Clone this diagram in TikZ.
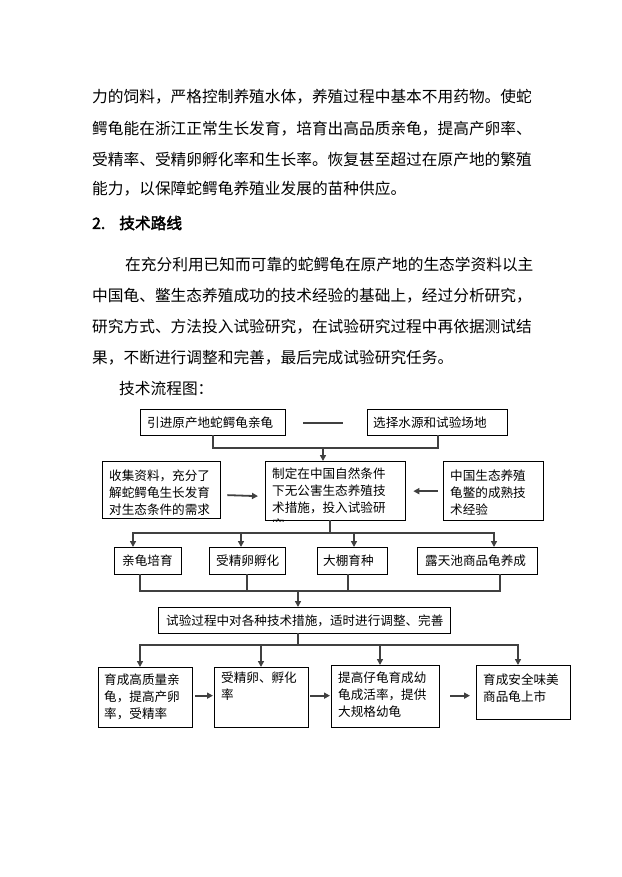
\documentclass[tikz,border=0pt]{standalone}
\usepackage{fontspec}
\usepackage{tikz}
\usetikzlibrary{arrows.meta}
\newfontfamily\cjkfont{Noto Sans CJK SC}
\newfontfamily\cjkbold[FakeBold=2.5]{Noto Sans CJK SC}

\begin{document}
\begin{tikzpicture}[x=1pt,y=-1pt,line cap=rect,
  box/.style={draw=custcol_0_0_0, line width=1.3pt, inner sep=0, anchor=north west},
  wire/.style={line width=1.8pt, custcol_40_40_40},
  arr/.style={wire, -{Triangle[length=6pt,width=6pt]}},
  body/.style={inner sep=0, anchor=west, custcol_0_0_0, font=\cjkfont\fontsize{15.7pt}{15.7pt}\selectfont},
  lbl/.style={inner sep=0, align=left, custcol_0_0_0, font=\cjkfont\fontsize{12.6pt}{17pt}\selectfont}]
					\definecolor{custcol_0_0_0}{RGB}{0, 0, 0}
					\definecolor{custcol_40_40_40}{RGB}{64, 64, 64}
					\useasboundingbox (0,0) rectangle (621,877);
					% running text
					\node[body] (p1) at (92,97)  {力的饲料，严格控制养殖水体，养殖过程中基本不用药物。使蛇};
					\node[body] (p2) at (92,129) {鳄龟能在浙江正常生长发育，培育出高品质亲龟，提高产卵率、};
					\node[body] (p3) at (92,160) {受精率、受精卵孵化率和生长率。恢复甚至超过在原产地的繁殖};
					\node[body] (p4) at (92,189) {能力，以保障蛇鳄龟养殖业发展的苗种供应。};
					\node[body, font=\cjkbold\fontsize{15.7pt}{15.7pt}\selectfont] (h2) at (92,223) {2.\hspace{14pt}技术路线};
					\node[body] (q1) at (125,265) {在充分利用已知而可靠的蛇鳄龟在原产地的生态学资料以主};
					\node[body] (q2) at (92,296)  {中国龟、鳖生态养殖成功的技术经验的基础上，经过分析研究，};
					\node[body] (q3) at (92,327)  {研究方式、方法投入试验研究，在试验研究过程中再依据测试结};
					\node[body] (q4) at (92,358)  {果，不断进行调整和完善，最后完成试验研究任务。};
					\node[body] (q5) at (119,389) {技术流程图：};
					% flow chart boxes
					\node[box, minimum width=145pt, minimum height=26pt] (yinjin) at (140,409) {};
					\node[box, minimum width=140pt, minimum height=26pt] (xuanze) at (367,409) {};
					\node[box, minimum width=118pt, minimum height=57pt] (shouji) at (102,461) {};
					\node[box, minimum width=140pt, minimum height=59pt] (zhiding) at (265,461) {};
					\node[box, minimum width=100pt, minimum height=59pt] (zhongguo) at (443,461) {};
					\node[box, minimum width=67pt, minimum height=27pt] (qingui) at (114,547) {};
					\node[box, minimum width=76pt, minimum height=27pt] (shoujing) at (209,547) {};
					\node[box, minimum width=70pt, minimum height=27pt] (dapeng) at (317,547) {};
					\node[box, minimum width=120pt, minimum height=27pt] (lutian) at (417,547) {};
					\node[box, minimum width=292pt, minimum height=26pt] (tiaozheng) at (158,607) {};
					\node[box, minimum width=94pt, minimum height=60pt] (yucheng) at (98,667) {};
					\node[box, minimum width=94pt, minimum height=60pt] (fuhua) at (214,667) {};
					\node[box, minimum width=108pt, minimum height=62pt] (zaigui) at (331,665) {};
					\node[box, minimum width=94pt, minimum height=54pt] (shangshi) at (476,665) {};
					% box texts
					\node[lbl, anchor=west] (t1) at ([xshift=7pt]yinjin.west) {引进原产地蛇鳄龟亲龟};
					\node[lbl, anchor=west] (t2) at ([xshift=6pt]xuanze.west) {选择水源和试验场地};
					\node[lbl, anchor=north west] (t3) at ([shift={(7,9)}]shouji.north west) {收集资料，充分了\\解蛇鳄龟生长发育\\对生态条件的需求};
					\begin{scope}
					\clip (zhiding.north west) rectangle (zhiding.south east);
					\node[lbl, anchor=north west] (t4) at ([shift={(7,7)}]zhiding.north west) {制定在中国自然条件\\下无公害生态养殖技\\术措施，投入试验研\\究};
					\end{scope}
					\node[lbl, anchor=north west] (t5) at ([shift={(7,9)}]zhongguo.north west) {中国生态养殖\\龟鳖的成熟技\\术经验};
					\node[lbl, anchor=west] (t6) at ([xshift=8pt]qingui.west) {亲龟培育};
					\node[lbl, anchor=west] (t7) at ([xshift=7pt]shoujing.west) {受精卵孵化};
					\node[lbl, anchor=west] (t8) at ([xshift=6pt]dapeng.west) {大棚育种};
					\node[lbl, anchor=west] (t9) at ([xshift=8pt]lutian.west) {露天池商品龟养成};
					\node[lbl, anchor=west] (t10) at ([xshift=8pt]tiaozheng.west) {试验过程中对各种技术措施，适时进行调整、完善};
					\node[lbl, anchor=north west] (t11) at ([shift={(6,7)}]yucheng.north west) {育成高质量亲\\龟，提高产卵\\率，受精率};
					\node[lbl, anchor=north west] (t12) at ([shift={(7,5)}]fuhua.north west) {受精卵、孵化\\率};
					\node[lbl, anchor=north west] (t13) at ([shift={(7,7)}]zaigui.north west) {提高仔龟育成幼\\龟成活率，提供\\大规格幼龟};
					\node[lbl, anchor=north west] (t14) at ([shift={(7,9)}]shangshi.north west) {育成安全味美\\商品龟上市};
					% connectors
					\draw[wire] ([xshift=18pt]yinjin.east) -- ([xshift=-25pt]xuanze.west);
					\coordinate (j1) at (323,448);
					\draw[wire] (yinjin.south) |- (j1) -| (xuanze.south);
					\draw[arr] (j1) -- (j1 |- zhiding.north);
					\draw[arr] ([shift={(7,5)}]shouji.east) -- ([shift={(-7,5)}]zhiding.west);
					\draw[arr] ([xshift=-6pt]zhongguo.west) -- ([xshift=7pt]zhiding.east);
					\coordinate (j2) at (330,533);
					\draw[wire] (zhiding.south -| j2) -- (j2);
					\draw[wire] (j2 -| 133,0) -- (j2 -| 494,0);
					\foreach \n/\x in {qingui/133,shoujing/241,dapeng/354,lutian/494}
						\draw[arr] (j2 -| \x,0) -- (\n.north -| \x,0);
					\coordinate (j3) at (298,591);
					\foreach \n/\x in {qingui/140,shoujing/247,dapeng/348,lutian/500}
						\draw[wire] (\n.south -| \x,0) -- (j3 -| \x,0);
					\draw[wire] (j3 -| 140,0) -- (j3 -| 500,0);
					\draw[arr] (j3) -- (j3 |- tiaozheng.north);
					\coordinate (j4) at (298,645);
					\draw[wire] (tiaozheng.south -| j4) -- (j4);
					\draw[wire] (j4 -| 140,0) -- (j4 -| 518,0);
					\foreach \n/\x in {yucheng/140,fuhua/261,zaigui/380,shangshi/518}
						\draw[arr] (j4 -| \x,0) -- (\n.north -| \x,0);
					\draw[arr] ([shift={(3,-2)}]yucheng.east) -- ([shift={(-1,-2)}]fuhua.west);
					\draw[arr] ([shift={(2,-2)}]fuhua.east) -- ([shift={(-1,-1)}]zaigui.west);
					\draw[arr] ([shift={(11,-1)}]zaigui.east) -- ([shift={(-6,3)}]shangshi.west);
				\end{tikzpicture}
\end{document}
